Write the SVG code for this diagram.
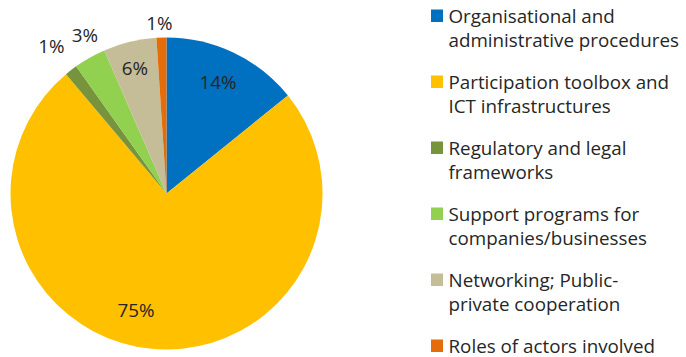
<svg xmlns="http://www.w3.org/2000/svg" width="686" height="357" viewBox="0 0 686 357">
<style>
text{font-family:"Open Sans","Noto Sans","Liberation Sans",sans-serif;font-size:18.8px;fill:#262626}
.pl{text-anchor:middle}
.blue{fill:#0070C0}.yellow{fill:#FFC000}.dgreen{fill:#77933C}.lgreen{fill:#92D050}.tan{fill:#C4BD97}.orange{fill:#E46C0A}
</style>
<rect width="686" height="357" fill="#ffffff"/>
<g id="pie">
<g id="slice-organisational"><path class="blue" d="M166.5,193.5 L166.5,37.5 A156,156 0 0 1 287.9,95.5 Z"/><text class="pl" x="218" y="88.5">14%</text></g>
<g id="slice-participation"><path class="yellow" d="M166.5,193.5 L287.9,95.5 A156,156 0 1 1 66.0,74.2 Z"/><text class="pl" x="136" y="317.3">75%</text></g>
<g id="slice-regulatory"><path class="dgreen" d="M166.5,193.5 L66.0,74.2 A156,156 0 0 1 76.1,66.3 Z"/><text class="pl" x="51.3" y="53.3">1%</text></g>
<g id="slice-support"><path class="lgreen" d="M166.5,193.5 L76.1,66.3 A156,156 0 0 1 104.3,50.4 Z"/><text class="pl" x="85" y="41.7">3%</text></g>
<g id="slice-networking"><path class="tan" d="M166.5,193.5 L104.3,50.4 A156,156 0 0 1 156.4,37.8 Z"/><text class="pl" x="135" y="75">6%</text></g>
<g id="slice-roles"><path class="orange" d="M166.5,193.5 L156.4,37.8 A156,156 0 0 1 166.5,37.5 Z"/><text class="pl" x="159.5" y="29.5">1%</text></g>
</g>
<g id="legend">
<g id="legend-organisational"><rect class="blue" x="431" y="9.5" width="12" height="12.5"/><text x="448.5" y="22.5">Organisational and</text><text x="448.5" y="46.5">administrative procedures</text></g>
<g id="legend-participation"><rect class="yellow" x="431" y="75.5" width="12" height="12.5"/><text x="448.5" y="88.5">Participation toolbox and</text><text x="448.5" y="112.5">ICT infrastructures</text></g>
<g id="legend-regulatory"><rect class="dgreen" x="431" y="141.5" width="12" height="12.5"/><text x="448.5" y="154.5">Regulatory and legal</text><text x="448.5" y="178.5">frameworks</text></g>
<g id="legend-support"><rect class="lgreen" x="431" y="207.5" width="12" height="12.5"/><text x="448.5" y="220.5">Support programs for</text><text x="448.5" y="244.5">companies/businesses</text></g>
<g id="legend-networking"><rect class="tan" x="431" y="273.5" width="12" height="12.5"/><text x="448.5" y="286.5">Networking; Public-</text><text x="448.5" y="310.5">private cooperation</text></g>
<g id="legend-roles"><rect class="orange" x="431" y="339.5" width="12" height="12.5"/><text x="448.5" y="352.5">Roles of actors involved</text></g>
</g>
</svg>
